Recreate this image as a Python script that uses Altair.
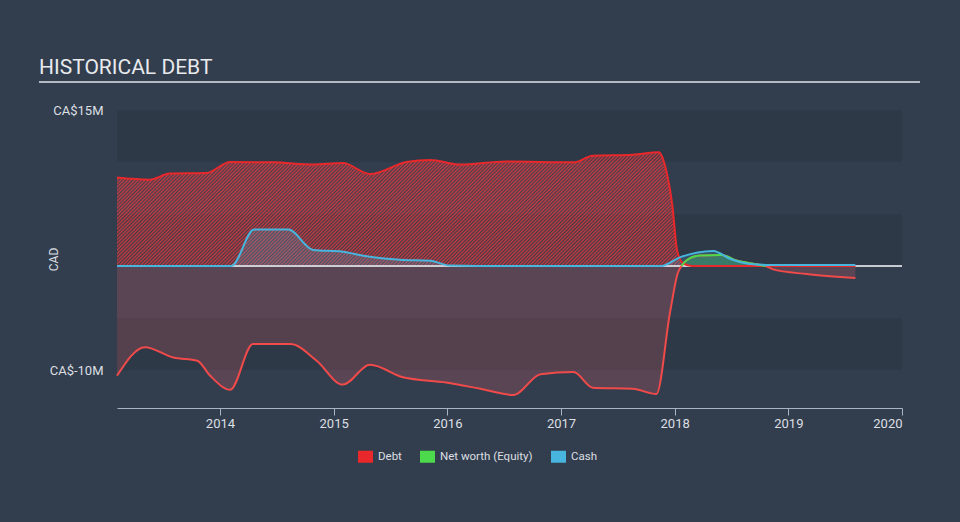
import altair as alt
import pandas as pd

# ---- data (values in millions CAD, time in decimal years) ----
X0, X1 = 2013.094, 2020.0
Y0, Y1 = -13.65, 15.0

SERIES = ["Debt", "Net worth (Equity)", "Cash"]
COLORS = ["#e8282b", "#4cd94c", "#47b5dd"]

debt_t = [2013.094, 2013.38, 2013.56, 2013.88, 2014.09, 2014.47, 2014.82, 2015.08,
          2015.32, 2015.64, 2015.85, 2016.11, 2016.52, 2017.11, 2017.28, 2017.63,
          2017.86, 2017.93, 2017.98, 2018.02, 2018.07, 2018.15, 2018.6, 2019.1, 2019.59]
debt_v = [8.5, 8.3, 8.9, 8.95, 10.0, 9.97, 9.75, 9.9,
          8.85, 10.0, 10.2, 9.75, 10.05, 9.97, 10.6, 10.7,
          10.95, 9.0, 5.8, 1.6, 0.3, 0.0, 0.0, 0.0, 0.0]

cash_t = [2013.094, 2014.1, 2014.3, 2014.6, 2014.82, 2015.08, 2015.29, 2015.58,
          2015.85, 2016.02, 2016.5, 2017.2, 2017.88, 2018.05, 2018.34, 2018.49,
          2018.66, 2018.85, 2019.2, 2019.59]
cash_v = [0.0, 0.0, 3.5, 3.5, 1.55, 1.38, 0.93, 0.6,
          0.5, 0.05, 0.0, 0.0, 0.0, 0.85, 1.45, 0.67,
          0.2, 0.1, 0.1, 0.1]

eq_t = [2013.094, 2013.34, 2013.59, 2013.80, 2013.91, 2014.09, 2014.29, 2014.62,
        2014.85, 2015.08, 2015.32, 2015.61, 2015.99, 2016.29, 2016.58, 2016.82,
        2017.11, 2017.28, 2017.63, 2017.84, 2017.96, 2018.03, 2018.06, 2018.10,
        2018.22, 2018.41, 2018.55, 2018.70, 2018.80, 2018.86, 2019.16, 2019.59]
eq_v = [-10.55, -7.8, -8.8, -9.1, -10.5, -11.9, -7.5, -7.5,
        -9.1, -11.4, -9.5, -10.7, -11.2, -11.8, -12.4, -10.4,
        -10.2, -11.7, -11.8, -12.3, -4.4, -0.6, 0.0, 0.5,
        1.0, 1.06, 0.5, 0.2, 0.0, -0.3, -0.77, -1.15]

band_lo = [10, 0, -10]
band_hi = [15, 5, -5]

YEAR_TICKS = [2014, 2015, 2016, 2017, 2018, 2019, 2020]
Y_TICKS = [15, -10]

debt = pd.DataFrame({"t": debt_t, "v": debt_v, "s": "Debt"})
cash = pd.DataFrame({"t": cash_t, "v": cash_v, "s": "Cash"})
eq = pd.DataFrame({"t": eq_t, "v": eq_v, "s": "Net worth (Equity)"})
bands = pd.DataFrame({"lo": band_lo, "hi": band_hi})

FONT = "Roboto"
TXT = "#dcdfe3"

# ---- diagonal hatch fill for the debt area (style only) ----
BW, BH = 738.0, 114.0          # approx. pixel bbox of the debt area
k = (BW + BH) / (BW ** 2 + BH ** 2)
PERIOD = 3.5
n_per = int((BW + BH) / PERIOD)
stops = []
for i in range(n_per + 1):
    stops.append(alt.GradientStop(offset=min(1.0, i / n_per), color="rgba(235,60,65,0.8)"))
    stops.append(alt.GradientStop(offset=min(1.0, (i + 0.5) / n_per), color="rgba(235,60,65,0.14)"))
hatch = alt.LinearGradient(gradient="linear", x1=0, y1=0, x2=BW * k, y2=BH * k, stops=stops)

xscale = alt.Scale(domain=[X0, X1], nice=False, zero=False)
yscale = alt.Scale(domain=[Y0, Y1], nice=False, zero=False)
xaxis = alt.Axis(values=YEAR_TICKS, format="d", title=None, grid=False,
                 domainColor="#aab3c0", tickColor="#aab3c0", tickSize=7,
                 labelColor=TXT, labelFontSize=13, labelFont=FONT,
                 labelPadding=2, labelFlush=True)
yaxis = alt.Axis(values=Y_TICKS, title="CAD", grid=False, domain=False, ticks=False,
                 labelExpr="'CA$' + datum.value + 'M'", labelPadding=14,
                 labelColor=TXT, labelFontSize=13, labelFont=FONT,
                 titleColor=TXT, titleFontSize=12, titleFont=FONT,
                 titleFontWeight="normal", titleX=-64, titleY=149,
                 titleAngle=-90, titleAlign="center", titleBaseline="middle")

X = alt.X("t:Q", scale=xscale, axis=xaxis)
Y = alt.Y("v:Q", scale=yscale, axis=yaxis)

color_scale = alt.Scale(domain=SERIES, range=COLORS)
legend = alt.Legend(orient="none", legendX=241, legendY=339, direction="horizontal",
                    title=None, symbolType="M-1,-0.8H1V0.8H-1Z", symbolSize=225,
                    symbolStrokeWidth=0, symbolOpacity=1, labelFontSize=11.5,
                    labelFont=FONT, labelColor=TXT, columnPadding=18,
                    labelOffset=5, padding=0)
C = alt.Color("s:N", scale=color_scale, legend=legend)

band_layer = alt.Chart(bands).mark_rect(color="#2d3946").encode(
    x=alt.datum(X0, scale=xscale), x2=alt.datum(X1),
    y=alt.Y("lo:Q", scale=yscale, axis=yaxis), y2="hi:Q")

# legend carrier (invisible fill) + hatched fill
debt_area = alt.Chart(debt).mark_area(interpolate="monotone").encode(
    x=X, y=Y, y2=alt.datum(0), color=C, fillOpacity=alt.value(0))
debt_hatch = alt.Chart(debt).mark_area(interpolate="monotone", fill=hatch).encode(
    x=X, y=Y, y2=alt.datum(0))

neg_area = alt.Chart(eq).transform_calculate(vn="min(datum.v, 0)").mark_area(
    interpolate="monotone", color="#d05a66").encode(
    x=X, y=alt.Y("vn:Q", scale=yscale, axis=yaxis), y2=alt.datum(0),
    fillOpacity=alt.value(0.25))

pos_area = alt.Chart(eq).transform_filter("datum.v >= 0").mark_area(
    interpolate="monotone").encode(
    x=X, y=Y, y2=alt.datum(0), color=C, fillOpacity=alt.value(0.3))

cash_area = alt.Chart(cash).mark_area(interpolate="monotone").encode(
    x=X, y=Y, y2=alt.datum(0), color=C, fillOpacity=alt.value(0.22))

zero_rule = alt.Chart(bands).mark_rule(color="#dde1e6", strokeWidth=1).encode(
    x=alt.datum(X0, scale=xscale), x2=alt.datum(X1), y=alt.datum(0, scale=yscale))

debt_line = alt.Chart(debt).mark_line(interpolate="monotone", color="#e8282b",
                                      strokeWidth=2).encode(x=X, y=Y)
eq_line = alt.Chart(eq).mark_line(interpolate="monotone", color="#f04a4a",
                                  strokeWidth=2).encode(x=X, y=Y)
eq_pos_line = alt.Chart(eq).transform_filter("datum.v >= 0").mark_line(
    interpolate="monotone", color="#4cd94c", strokeWidth=2).encode(x=X, y=Y)
cash_line = alt.Chart(cash).mark_line(interpolate="monotone", color="#47b5dd",
                                      strokeWidth=2).encode(x=X, y=Y)

underline = alt.Chart(bands).mark_rule(color="#b4b9c2", strokeWidth=2).encode(
    x=alt.value(-78), x2=alt.value(803), y=alt.value(-28))

chart = alt.layer(
    band_layer, debt_area, debt_hatch, neg_area, pos_area, cash_area, zero_rule,
    debt_line, eq_line, eq_pos_line, cash_line, underline
).properties(
    width=785, height=298,
    title=alt.TitleParams("HISTORICAL DEBT", anchor="start", frame="group", dx=-78,
                          dy=48, offset=34, baseline="alphabetic", fontSize=21,
                          font=FONT, fontWeight="normal", color="#e8eaed"),
    autosize=alt.AutoSizeParams(type="none"),
    padding={"left": 117, "top": 110, "right": 58, "bottom": 114},
    background="#323e4d",
).configure_view(stroke=None)

chart.save("out.html", embed_options={"renderer": "svg", "actions": False})
